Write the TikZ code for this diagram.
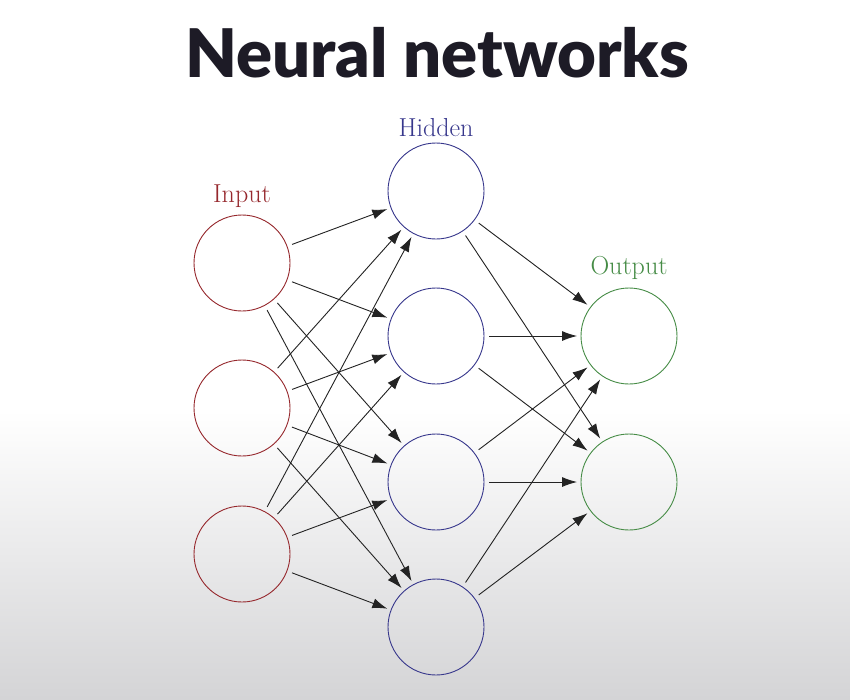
\documentclass[tikz,border=0pt]{standalone}
\usepackage{fontspec}
\newfontfamily\titlefont{Lato Black}
\usetikzlibrary{arrows.meta}
\definecolor{titleink}{RGB}{29,27,38}
\definecolor{inred}{RGB}{150,40,45}
\definecolor{hidblue}{RGB}{55,55,140}
\definecolor{outgreen}{RGB}{70,140,70}
\definecolor{floorgray}{RGB}{212,212,214}
\tikzset{
  neuron/.style={circle, minimum size=96pt, inner sep=0pt, line width=0.9pt},
  innode/.style={neuron, draw=inred},
  hidnode/.style={neuron, draw=hidblue},
  outnode/.style={neuron, draw=outgreen},
  layerlabel/.style={font=\fontsize{26}{30}\selectfont},
  link/.style={draw={rgb,255:red,35;green,35;blue,35}, line width=0.9pt,
    -{Latex[length=15pt,width=10pt]}, shorten <=5pt, shorten >=3.5pt}
}
\begin{document}
\begin{tikzpicture}[x=1pt,y=-1pt]
  % page and floor shading
  \useasboundingbox (0,0) rectangle (850,699);
  \fill[white] (0,0) rectangle (850,699);
  \shade[top color=white, bottom color=floorgray] (0,410) rectangle (850,699);

  % title
  \node[text=titleink, font=\titlefont\fontsize{67}{74}\selectfont] (title) at (437,53) {Neural networks};

  % layers
  \node[innode] (i1) at (242,263) {};
  \node[innode] (i2) at (242,408) {};
  \node[innode] (i3) at (242,554) {};

  \node[hidnode] (h1) at (436,191) {};
  \node[hidnode] (h2) at (436,336) {};
  \node[hidnode] (h3) at (436,482) {};
  \node[hidnode] (h4) at (436,627) {};

  \node[outnode] (o1) at (629,336) {};
  \node[outnode] (o2) at (629,482) {};

  % layer labels
  \node[layerlabel, text=inred] (lin) at (242,196) {Input};
  \node[layerlabel, text=hidblue] (lhid) at (436,128) {Hidden};
  \node[layerlabel, text=outgreen] (lout) at (629,268) {Output};

  % connections
  \foreach \a in {i1,i2,i3}
    \foreach \b in {h1,h2,h3,h4}
      \draw[link] (\a) -- (\b);
  \foreach \a in {h1,h2,h3,h4}
    \foreach \b in {o1,o2}
      \draw[link] (\a) -- (\b);
\end{tikzpicture}
\end{document}
